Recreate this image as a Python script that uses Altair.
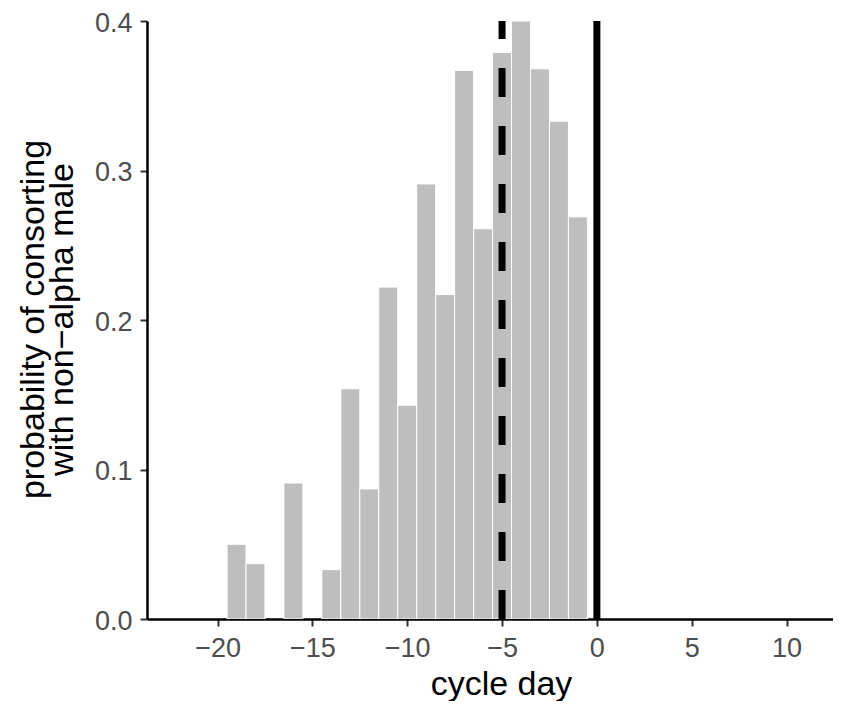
import altair as alt
import pandas as pd

# Histogram bins (cycle day centres) and probabilities
days = [-19, -18, -16, -14, -13, -12, -11, -10, -9, -8, -7, -6, -5, -4, -3, -2, -1]
probs = [0.050, 0.037, 0.091, 0.033, 0.154, 0.087, 0.222, 0.143, 0.291,
         0.217, 0.367, 0.261, 0.379, 0.400, 0.368, 0.333, 0.269]

x_ticks = [-20, -15, -10, -5, 0, 5, 10]
y_ticks = [0.0, 0.1, 0.2, 0.3, 0.4]
x_domain = [-23.72, 12.45]
y_domain = [0.0, 0.4]

dashed_day = [-5]
solid_day = [0]

bars_df = pd.DataFrame({"day": days, "prob": probs})
bars_df["lo"] = bars_df["day"] - 0.5
bars_df["hi"] = bars_df["day"] + 0.5

xscale = alt.Scale(domain=x_domain, nice=False, zero=False)
yscale = alt.Scale(domain=y_domain, nice=False, zero=False)

x_axis = alt.Axis(values=x_ticks, title="cycle day", titleY=75, titleX=354,
                  titleBaseline="alphabetic", titleAlign="center", format="d",
                  labelPadding=9)
y_axis = alt.Axis(values=y_ticks, format=".1f",
                  title=["probability of consorting", "with non\u2212alpha male"],
                  titleX=-114, titleY=298, titleAngle=270,
                  titleAlign="center", titleBaseline="middle", titleLineHeight=29,
                  labelPadding=8, labelOffset=2)

bars = alt.Chart(bars_df).mark_rect(
    fill="#BEBEBE", stroke="white", strokeWidth=1, clip=True
).encode(
    x=alt.X("lo:Q", scale=xscale, axis=x_axis),
    x2="hi:Q",
    y=alt.Y("prob:Q", scale=yscale, axis=y_axis),
    y2=alt.datum(0),
)

dash_df = pd.DataFrame({"day": dashed_day, "y0": [0.0], "y1": [0.4]})
solid_df = pd.DataFrame({"day": solid_day, "y0": [0.0], "y1": [0.4]})

dashed = alt.Chart(dash_df).mark_rule(
    color="black", strokeWidth=7, strokeDash=[29, 29], strokeCap="butt"
).encode(
    x=alt.X("day:Q", scale=xscale),
    y=alt.Y("y0:Q", scale=yscale),
    y2="y1:Q",
)

solid = alt.Chart(solid_df).mark_rule(
    color="black", strokeWidth=7, strokeCap="butt"
).encode(
    x=alt.X("day:Q", scale=xscale),
    y=alt.Y("y0:Q", scale=yscale),
    y2="y1:Q",
)

chart = alt.layer(bars, dashed, solid).properties(
    width=686, height=598,
    autosize=alt.AutoSizeParams(type="none"),
    padding={"left": 139, "top": 13, "right": 0, "bottom": 82},
).configure_view(
    stroke=None
).configure_axis(
    grid=False,
    domainColor="black",
    domainWidth=2.5,
    tickColor="#333333",
    tickWidth=2,
    tickSize=7,
    labelFont="Liberation Sans",
    labelFontSize=27,
    labelColor="#4D4D4D",
    titleFont="Liberation Sans",
    titleFontSize=34,
    titleFontWeight="normal",
    titleColor="black",
).configure_axisX(
    labelFlush=False,
)

chart.save("out.html", embed_options={"renderer": "svg", "actions": False})
